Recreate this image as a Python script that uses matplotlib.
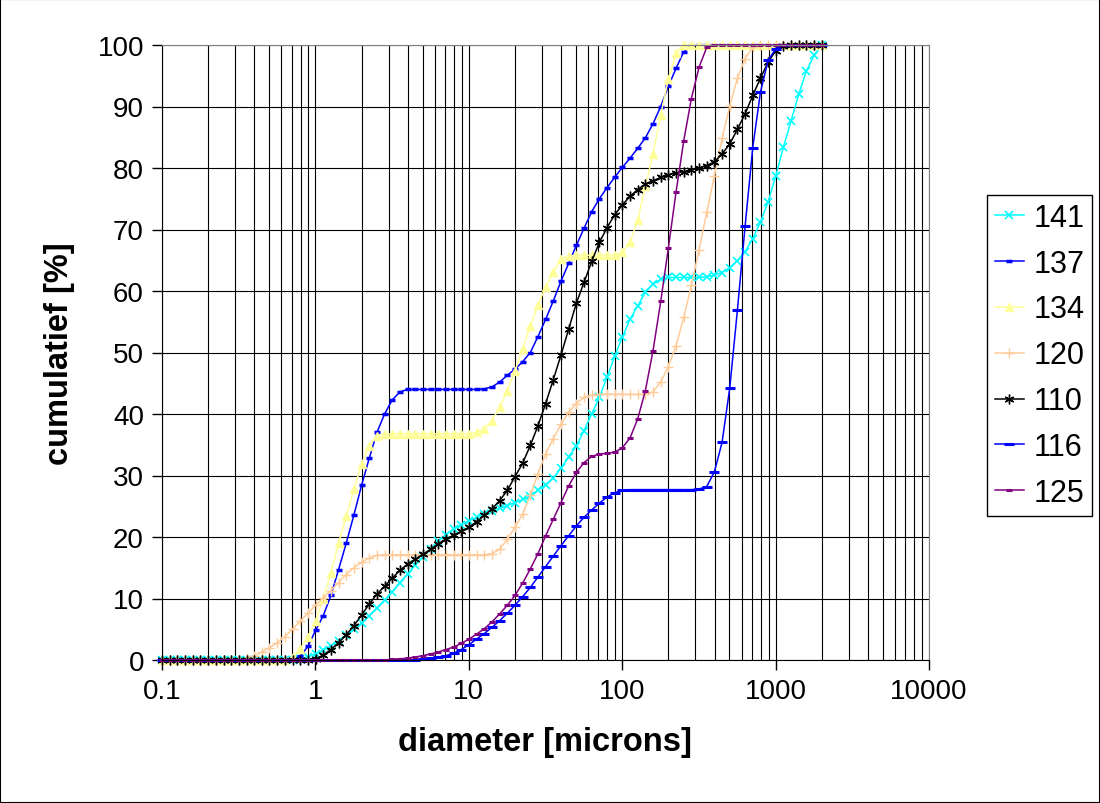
import matplotlib
matplotlib.use("Agg")
import matplotlib.pyplot as plt
from matplotlib.patches import Rectangle

plt.rcParams["font.family"] = ["Liberation Sans", "DejaVu Sans"]

# particle size classes (microns)
sizes = [
    0.100, 0.112, 0.126, 0.142, 0.159, 0.178, 0.200, 0.224, 0.252, 0.283,
    0.317, 0.356, 0.399, 0.448, 0.502, 0.564, 0.632, 0.710, 0.796, 0.893,
    1.002, 1.125, 1.262, 1.416, 1.589, 1.783, 2.000, 2.244, 2.518, 2.825,
    3.170, 3.557, 3.991, 4.477, 5.024, 5.637, 6.325, 7.096, 7.962, 8.934,
    10.024, 11.247, 12.619, 14.159, 15.887, 17.825, 20.000, 22.440, 25.179, 28.251,
    31.698, 35.566, 39.905, 44.774, 50.238, 56.368, 63.246, 70.963, 79.621, 89.337,
    100.237, 112.468, 126.191, 141.589, 158.866, 178.250, 200.000, 224.404, 251.785, 282.508,
    316.979, 355.656, 399.052, 447.744, 502.377, 563.677, 632.456, 709.627, 796.214, 893.367,
    1002.374, 1124.683, 1261.915, 1415.892, 1588.656, 1782.502, 2000.000,
]

# cumulative volume [%] per sample
s141 = [
    0, 0, 0, 0, 0, 0, 0, 0, 0, 0, 0, 0, 0, 0, 0, 0, 0, 0, 0.2, 0.5,
    1.0, 1.6, 2.3, 3.1, 4.0, 5.0, 6.0, 7.2, 8.4, 9.7,
    11.1, 12.6, 14.0, 15.4, 16.8, 18.1, 19.3, 20.4, 21.3, 22.0,
    22.6, 23.2, 23.8, 24.3, 24.7, 25.1, 25.6, 26.1, 26.7, 27.6,
    28.5, 29.6, 31.2, 33.0, 34.8, 37.3, 40.0, 42.7, 46.0, 49.4,
    52.5, 55.4, 57.6, 59.8, 61.1, 61.9, 62.2, 62.2, 62.2, 62.2,
    62.2, 62.3, 62.6, 63.0, 63.8, 64.9, 66.4, 68.5, 71.2, 74.5,
    78.7, 83.4, 87.7, 92.0, 95.8, 98.3, 100.0,
]
s137 = [
    0, 0, 0, 0, 0, 0, 0, 0, 0, 0, 0, 0, 0, 0, 0, 0, 0, 0.1, 0.6, 2.2,
    4.8, 7.2, 10.5, 14.7, 19.0, 23.6, 28.4, 32.8, 37.0, 40.0,
    42.3, 43.6, 44.0, 44.0, 44.0, 44.0, 44.0, 44.0, 44.0, 44.0,
    44.0, 44.0, 44.1, 44.4, 45.2, 46.3, 47.3, 48.5, 50.0, 52.6,
    55.4, 58.4, 61.6, 64.5, 67.4, 70.2, 72.9, 75.0, 76.8, 78.5,
    80.1, 81.6, 83.2, 84.9, 87.2, 90.0, 93.3, 96.2, 98.9, 99.9,
    100, 100, 100, 100, 100, 100, 100, 100, 100, 100,
    100, 100, 100, 100, 100, 100, 100,
]
s134 = [
    0, 0, 0, 0, 0, 0, 0, 0, 0, 0, 0, 0, 0, 0, 0, 0, 0, 0.5, 1.8, 3.8,
    6.3, 10.0, 14.2, 19.0, 23.4, 27.8, 31.9, 34.8, 36.5, 36.7,
    36.8, 36.8, 36.8, 36.8, 36.8, 36.8, 36.8, 36.8, 36.8, 36.8,
    36.8, 37.0, 37.6, 38.9, 41.1, 43.8, 47.0, 50.6, 54.3, 57.8,
    60.6, 63.1, 65.2, 65.7, 65.8, 65.8, 65.8, 65.8, 65.8, 65.8,
    66.3, 67.9, 71.5, 77.0, 82.3, 88.6, 94.5, 98.7, 100, 100,
    100, 100, 100, 100, 100, 100, 100, 100, 100, 100,
    100, 100, 100, 100, 100, 100, 100,
]
s120 = [
    0, 0, 0, 0, 0, 0, 0, 0, 0, 0, 0, 0.3, 0.7, 1.3, 2.0, 2.8, 3.8, 5.0, 6.3, 7.6,
    8.9, 10.1, 11.3, 12.6, 13.9, 15.0, 15.9, 16.6, 17.0, 17.1,
    17.1, 17.1, 17.1, 17.1, 17.1, 17.1, 17.1, 17.1, 17.1, 17.1,
    17.1, 17.1, 17.1, 17.3, 18.0, 19.6, 21.6, 23.7, 26.8, 30.3,
    33.5, 36.0, 38.3, 40.3, 41.7, 42.7, 43.1, 43.2, 43.2, 43.2,
    43.2, 43.2, 43.2, 43.2, 43.6, 45.2, 47.7, 51.1, 55.7, 60.9,
    66.7, 72.8, 78.7, 84.8, 90.1, 94.6, 97.8, 99.6, 100, 100,
    100, 100, 100, 100, 100, 100, 100,
]
s110 = [
    0, 0, 0, 0, 0, 0, 0, 0, 0, 0, 0, 0, 0, 0, 0, 0, 0, 0, 0, 0,
    0.2, 0.8, 1.7, 2.8, 4.1, 5.6, 7.3, 9.1, 10.7, 12.0,
    13.3, 14.6, 15.6, 16.4, 17.2, 18.0, 18.9, 19.7, 20.3, 20.9,
    21.6, 22.5, 23.5, 24.6, 25.9, 27.6, 29.8, 32.0, 34.9, 38.1,
    41.7, 45.6, 49.6, 53.8, 58.0, 61.4, 64.8, 67.9, 70.3, 72.4,
    74.0, 75.4, 76.5, 77.4, 77.9, 78.5, 78.9, 79.2, 79.4, 79.7,
    80.0, 80.4, 81.0, 82.3, 83.9, 86.3, 88.8, 91.8, 94.6, 97.2,
    99.1, 99.9, 100, 100, 100, 100, 100,
]
s116 = [
    0, 0, 0, 0, 0, 0, 0, 0, 0, 0, 0, 0, 0, 0, 0, 0, 0, 0, 0, 0,
    0, 0, 0, 0, 0, 0, 0, 0, 0, 0, 0, 0, 0, 0, 0.1, 0.3, 0.5, 0.7, 1.1, 1.7,
    2.5, 3.4, 4.3, 5.3, 6.4, 7.6, 8.9, 10.3, 11.8, 13.5,
    15.2, 16.9, 18.6, 20.2, 21.8, 23.2, 24.4, 25.5, 26.5, 27.2,
    27.6, 27.7, 27.7, 27.7, 27.7, 27.7, 27.7, 27.7, 27.7, 27.7,
    27.8, 28.2, 30.6, 35.4, 44.2, 56.9, 70.5, 83.3, 92.3, 97.5,
    99.4, 100, 100, 100, 100, 100, 100,
]
s125 = [
    0, 0, 0, 0, 0, 0, 0, 0, 0, 0, 0, 0, 0, 0, 0, 0, 0, 0, 0, 0,
    0, 0, 0, 0, 0, 0, 0, 0, 0, 0,
    0.1, 0.2, 0.3, 0.5, 0.7, 1.0, 1.3, 1.7, 2.1, 2.7,
    3.4, 4.2, 5.1, 6.2, 7.5, 8.9, 10.5, 12.5, 14.8, 17.3,
    20.2, 22.9, 25.6, 28.3, 30.5, 32.1, 33.1, 33.5, 33.6, 33.8,
    34.5, 36.1, 39.2, 43.8, 50.3, 58.3, 67.0, 76.1, 84.4, 91.3,
    96.4, 99.6, 100, 100, 100, 100, 100, 100, 100, 100,
    100, 100, 100, 100, 100, 100, 100,
]

labels = ["141", "137", "134", "120", "110", "116", "125"]
series = [s141, s137, s134, s120, s110, s116, s125]
colors = ["#00FFFF", "#0000FF", "#FFFF99", "#FFCC99", "#000000", "#0000FF", "#800080"]
markers = ["x", "_", "^", "+", (6, 2, 0), "_", "_"]
msizes = [6, 4, 6, 7, 7, 7, 5]
mwidths = [1.2, 2.5, 1.0, 1.0, 1.0, 2.2, 2.2]

fig = plt.figure(figsize=(11, 8.04), dpi=100)
ax = fig.add_axes([162 / 1100, 1 - 661 / 804, (929 - 162) / 1100, (661 - 46) / 804])

for lab, ys, c, m, ms, mw in zip(labels, series, colors, markers, msizes, mwidths):
    ax.plot(sizes, ys, color=c, lw=1.1, marker=m, markersize=ms,
            markeredgewidth=mw, markerfacecolor=c, markeredgecolor=c,
            label=lab, clip_on=False)

ax.set_xscale("log")
ax.set_xlim(0.1, 10000)
ax.set_ylim(0, 100)
ax.set_xticks([0.1, 1, 10, 100, 1000, 10000])
ax.set_xticklabels(["0.1", "1", "10", "100", "1000", "10000"])
ax.set_yticks(range(0, 101, 10))
ax.tick_params(axis="both", which="major", labelsize=20, direction="out",
               length=7, width=1, color="black", pad=6)
ax.tick_params(axis="x", which="minor", length=0)

ax.grid(True, which="major", color="black", lw=0.8)
ax.grid(True, which="minor", axis="x", color="black", lw=0.8)
ax.set_axisbelow(True)

for side in ["top", "right"]:
    ax.spines[side].set_color("#808080")
for side in ["left", "bottom"]:
    ax.spines[side].set_color("black")

ax.set_xlabel("diameter [microns]", fontsize=23.5, fontweight="bold", labelpad=16)
ax.set_ylabel("cumulatief [%]", fontsize=23.5, fontweight="bold", labelpad=16)

leg = fig.legend(loc="upper left", bbox_to_anchor=(987 / 1100, 1 - 196 / 804),
                 fontsize=22, frameon=True, fancybox=False, edgecolor="black",
                 framealpha=1, borderaxespad=0, handlelength=0.95,
                 labelspacing=0.52, borderpad=0.25, handletextpad=0.33)
leg.get_frame().set_linewidth(1.0)

# outer border of the chart area
fig.patches.append(Rectangle((0, 0), 1, 1, transform=fig.transFigure,
                             fill=False, edgecolor="black", lw=1.5))

fig.savefig("out.png", dpi=100)
